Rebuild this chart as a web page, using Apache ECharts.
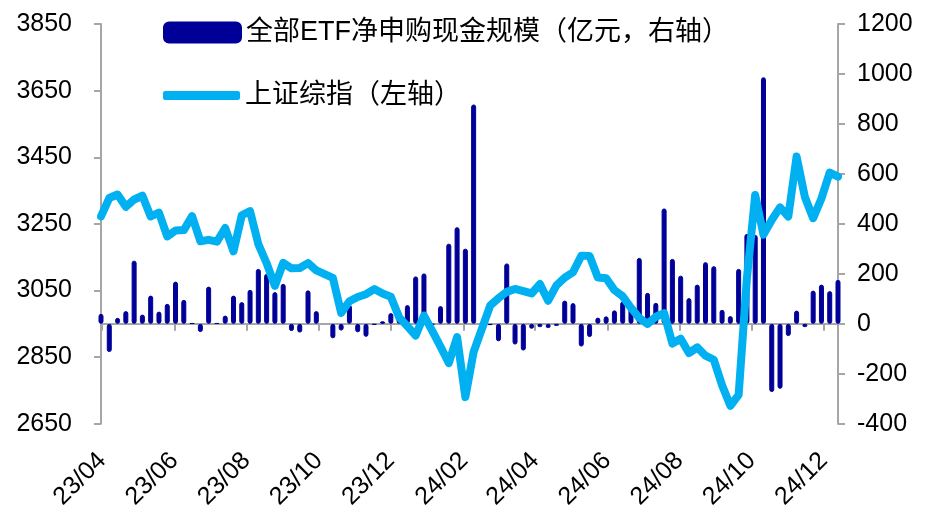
<!DOCTYPE html>
<html>
<head>
<meta charset="utf-8">
<script src="https://cdn.jsdelivr.net/npm/echarts@6/dist/echarts.min.js"></script>
<style>
html,body{margin:0;padding:0;background:#fff;}
#chart{width:934px;height:512px;}
</style>
</head>
<body>
<div id="chart"></div>
<script>
// Weekly dates (Friday of each trading week)
const dates = [
'2023-03-31','2023-04-07','2023-04-14','2023-04-21','2023-04-28','2023-05-05','2023-05-12','2023-05-19','2023-05-26',
'2023-06-02','2023-06-09','2023-06-16','2023-06-23','2023-06-30','2023-07-07','2023-07-14','2023-07-21','2023-07-28',
'2023-08-04','2023-08-11','2023-08-18','2023-08-25','2023-09-01','2023-09-08','2023-09-15','2023-09-22','2023-09-29',
'2023-10-13','2023-10-20','2023-10-27','2023-11-03','2023-11-10','2023-11-17','2023-11-24','2023-12-01','2023-12-08',
'2023-12-15','2023-12-22','2023-12-29','2024-01-05','2024-01-12','2024-01-19','2024-01-26','2024-02-02','2024-02-09',
'2024-02-23','2024-03-01','2024-03-08','2024-03-15','2024-03-22','2024-03-29','2024-04-05','2024-04-12','2024-04-19',
'2024-04-26','2024-05-03','2024-05-10','2024-05-17','2024-05-24','2024-05-31','2024-06-07','2024-06-14','2024-06-21',
'2024-06-28','2024-07-05','2024-07-12','2024-07-19','2024-07-26','2024-08-02','2024-08-09','2024-08-16','2024-08-23',
'2024-08-30','2024-09-06','2024-09-13','2024-09-20','2024-09-27','2024-10-04','2024-10-11','2024-10-18','2024-10-25',
'2024-11-01','2024-11-08','2024-11-15','2024-11-22','2024-11-29','2024-12-06','2024-12-13'
];
// 全部ETF净申购现金规模（亿元，右轴）
const etfFlow = [
40,-113,24,51,253,37,113,49,80,
169,96,3,-33,149,3,33,113,87,
136,220,200,127,160,-29,-35,134,51,
-58,-27,76,-34,-52,-4,10,43,50,
75,190,202,-3,71,321,387,301,878,
-5,-70,242,-83,-107,-20,-13,-17,-8,
93,83,-91,-53,25,30,54,89,72,
264,124,84,462,260,193,103,157,247,
231,56,31,220,360,356,987,-273,-260,
-49,53,-13,133,157,131,176
];
// 上证综指（左轴）
const shIndex = [
3272.86,3327.65,3338.15,3301.26,3323.27,3334.50,3272.36,3283.54,3212.50,
3230.07,3231.41,3273.33,3197.90,3202.06,3196.61,3237.70,3167.75,3275.93,
3288.08,3189.25,3131.95,3064.07,3133.25,3116.72,3117.74,3132.43,3110.48,
3088.10,2983.06,3017.78,3030.80,3038.97,3054.37,3040.97,3031.64,2969.56,
2942.56,2914.78,2974.93,2929.18,2881.98,2832.28,2910.22,2730.15,2865.90,
3004.88,3027.02,3046.02,3054.64,3048.03,3041.17,3069.30,3019.47,3065.26,
3088.64,3104.82,3154.55,3154.03,3088.87,3086.81,3051.28,3032.63,2998.14,
2967.40,2949.93,2971.30,2982.31,2890.90,2905.34,2862.19,2879.43,2854.37,
2842.21,2765.81,2704.09,2736.81,3087.53,3336.50,3217.74,3261.56,3299.70,
3272.01,3452.30,3330.73,3267.19,3326.46,3404.08,3391.88
];
const tickDates = ['2023-04-01','2023-06-01','2023-08-01','2023-10-01','2023-12-01','2024-02-01','2024-04-01','2024-06-01','2024-08-01','2024-10-01','2024-12-01'];
const tickLabels = ['23/04','23/06','23/08','23/10','23/12','24/02','24/04','24/06','24/08','24/10','24/12'];
const leftTicks = [2650,2850,3050,3250,3450,3650,3850];
const rightTicks = [-400,-200,0,200,400,600,800,1000,1200];
const seriesNames = ['全部ETF净申购现金规模（亿元，右轴）','上证综指（左轴）'];

function ts(s){const p=s.split('-').map(Number);return Date.UTC(p[0],p[1]-1,p[2]);}
const tickTs = tickDates.map(ts);
const FONT = '"Liberation Sans","Noto Sans CJK SC",sans-serif';
const AXIS_COLOR = '#A6A6A6';
const BAR_COLOR = '#000099';
const LINE_COLOR = '#00B0F0';

const chart = echarts.init(document.getElementById('chart'), null, {renderer:'canvas'});
const xMin = ts(dates[0]), xMax = ts(dates[dates.length-1]);
const legendText = {fontSize:27,color:'#000',fontFamily:FONT};
chart.setOption({
  animation:false,
  backgroundColor:'#fff',
  textStyle:{fontFamily:FONT},
  grid:{left:101,right:96,top:24,bottom:88,containLabel:false},
  legend:[{
    left:163, top:19, itemWidth:77, itemHeight:20, padding:0,
    data:[{name:seriesNames[0],icon:'roundRect'}],
    textStyle:legendText
  },{
    left:163, top:82, itemWidth:77, itemHeight:9, padding:0,
    data:[{name:seriesNames[1],icon:'roundRect'}],
    itemStyle:{color:LINE_COLOR},
    textStyle:legendText
  }],
  xAxis:[{
    type:'value', min:xMin, max:xMax, position:'bottom', scale:true,
    axisLine:{show:true,onZero:true,onZeroAxisIndex:1,lineStyle:{color:AXIS_COLOR,width:2}},
    axisTick:{show:true,length:7,lineStyle:{color:AXIS_COLOR,width:2},customValues:tickTs},
    axisLabel:{show:false},
    splitLine:{show:false}
  },{
    type:'value', min:xMin, max:xMax, position:'bottom', scale:true,
    axisLine:{show:false,onZero:false},
    axisTick:{show:false},
    splitLine:{show:false},
    axisLabel:{show:true,rotate:45,margin:33,fontSize:25,color:'#000',fontFamily:FONT,
      customValues:tickTs,
      formatter:function(v){const i=tickTs.indexOf(v);return i>=0?tickLabels[i]:'';}}
  }],
  yAxis:[{
    type:'value', min:leftTicks[0], max:leftTicks[leftTicks.length-1], interval:200, position:'left',
    axisLine:{show:true,lineStyle:{color:AXIS_COLOR,width:2}},
    axisTick:{show:true,length:7,lineStyle:{color:AXIS_COLOR,width:2}},
    axisLabel:{fontSize:25,color:'#000',margin:29,fontFamily:FONT,formatter:function(v){return String(v);}},
    splitLine:{show:false}
  },{
    type:'value', min:rightTicks[0], max:rightTicks[rightTicks.length-1], interval:200, position:'right',
    axisLine:{show:true,lineStyle:{color:AXIS_COLOR,width:2}},
    axisTick:{show:true,length:7,lineStyle:{color:AXIS_COLOR,width:2}},
    axisLabel:{fontSize:25,color:'#000',margin:19,fontFamily:FONT,formatter:function(v){return String(v);}},
    splitLine:{show:false}
  }],
  series:[{
    name:seriesNames[0], type:'bar', xAxisIndex:0, yAxisIndex:1,
    data:dates.map((d,i)=>[ts(d),etfFlow[i]]),
    barWidth:5,
    itemStyle:{color:BAR_COLOR,borderColor:BAR_COLOR,borderWidth:1,borderRadius:3}
  },{
    name:seriesNames[1], type:'line', xAxisIndex:0, yAxisIndex:0,
    data:dates.map((d,i)=>[ts(d),shIndex[i]]),
    showSymbol:false, symbol:'none',
    lineStyle:{color:LINE_COLOR,width:8,cap:'round',join:'round'},
    itemStyle:{color:LINE_COLOR}
  }]
});
</script>
</body>
</html>
